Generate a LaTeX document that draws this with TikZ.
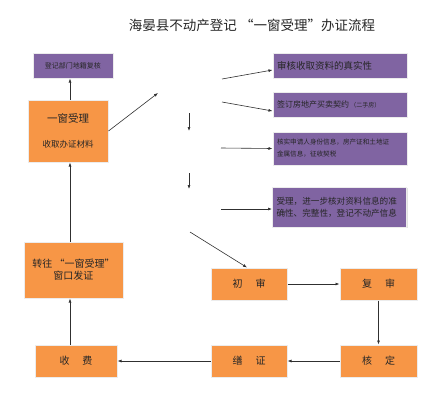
\documentclass[tikz,border=0pt]{standalone}
\usepackage{fontspec}
\setmainfont{Noto Sans CJK SC}
\usetikzlibrary{arrows.meta, shadows}
\definecolor{boxorange}{HTML}{F79646}
\definecolor{boxpurple}{HTML}{8064A2}
\definecolor{linegray}{HTML}{303030}

\begin{document}
\begin{tikzpicture}[x=1pt, y=-1pt,
    every node/.style={inner sep=0pt, text=black!85},
    orangebox/.style={fill=boxorange, draw=white!85!gray, line width=1pt,
        drop shadow={shadow xshift=1.2pt, shadow yshift=-1.2pt, fill=gray!45},
        minimum width=#1, minimum height=32pt, align=center},
    orangebox/.default=76pt,
    purplebox/.style={fill=boxpurple, draw=white!85!gray, line width=1pt,
        drop shadow={shadow xshift=1.2pt, shadow yshift=-1.2pt, fill=gray!45},
        minimum width=134pt, minimum height=#1, text width=126pt, align=left},
    purplebox/.default=25pt,
    flow/.style={draw=linegray, line width=0.6pt, -{Latex[length=4pt, width=3pt]}}]
				\useasboundingbox (0,0) rectangle (442,400);

				\node (title) at (252,25) {\fontsize{13.5}{15}\selectfont 海晏县不动产登记~“一窗受理”办证流程};

				\node[purplebox, minimum width=80pt, text width=66pt, align=center] (survey) at (73,65.5)
				{\fontsize{7}{8}\selectfont 登记部门地籍复核};
				\node[orangebox=80pt, minimum height=62pt] (window) at (68,131)
				{\fontsize{10.5}{12}\selectfont 一窗受理\\[13pt]\fontsize{8.5}{10}\selectfont 收取办证材料};

				\node[purplebox] (check) at (340,65.5)
				{\fontsize{9.5}{11}\selectfont 审核收取资料的真实性};
				\node[purplebox] (contract) at (340,104.5)
				{\fontsize{8}{9}\selectfont 签订房地产买卖契约\,{\fontsize{6}{7}\selectfont （二手房）}};
				\node[purplebox=33pt] (tax) at (340,148.5)
				{\fontsize{6.6}{9.5}\selectfont 核实申请人身份信息，房产证和土地证\\金属信息，征收契税};
				\node[purplebox=40pt] (accept) at (339.5,207)
				{\fontsize{8.6}{13}\selectfont 受理，进一步核对资料信息的准\\确性、完整性，登记不动产信息};

				\node[orangebox=99pt, minimum height=56pt] (issue) at (73.5,270)
				{\fontsize{10}{16}\selectfont 转往~“一窗受理”\\窗口发证};

				\node[orangebox] (first) at (249,284) {\fontsize{10}{12}\selectfont 初\hspace{1.3em}审};
				\node[orangebox=77pt] (second) at (378.5,284) {\fontsize{10}{12}\selectfont 复\hspace{1.3em}审};
				\node[orangebox=77pt] (approve) at (378.5,361) {\fontsize{10}{12}\selectfont 核\hspace{1.3em}定};
				\node[orangebox] (print) at (249,361) {\fontsize{10}{12}\selectfont 缮\hspace{1.3em}证};
				\node[orangebox=82pt] (fee) at (76,361) {\fontsize{10}{12}\selectfont 收\hspace{1.3em}费};

				\coordinate (column) at (70,0);
				\coordinate (fan) at (158,93);
				\coordinate (tocheck) at (222,79);
				\coordinate (tocontract) at (222,102);
				\coordinate (totax) at (221,148);
				\coordinate (toaccept) at (221,209);
				\coordinate (downA) at (189,113);
				\coordinate (downAend) at (189,131);
				\coordinate (downB) at (189,173);
				\coordinate (downBend) at (189,189);
				\coordinate (tofirst) at (190,232);

				\draw[flow] (window.north -| column) -- (survey.south -| column);
				\draw[flow] (issue.north -| column) -- (window.south -| column);
				\draw[flow] (fee.north -| column) -- (issue.south -| column);
				\draw[flow] (window.east) -- (fan);

				\draw[flow] (tocheck) -- ([yshift=-4.5pt]check.west);
				\draw[flow] (tocontract) -- ([yshift=-6.5pt]contract.west);
				\draw[flow] (totax) -- (tax.west);
				\draw[flow] (toaccept) -- ([yshift=-2pt]accept.west);
				\draw[flow] (downA) -- (downAend);
				\draw[flow] (downB) -- (downBend);
				\draw[flow] (tofirst) -- ([xshift=-2pt]first.north);

				\draw[flow] (first) -- (second);
				\draw[flow] (second) -- (approve);
				\draw[flow] (approve) -- (print);
				\draw[flow] (print) -- (fee);
			\end{tikzpicture}
\end{document}
